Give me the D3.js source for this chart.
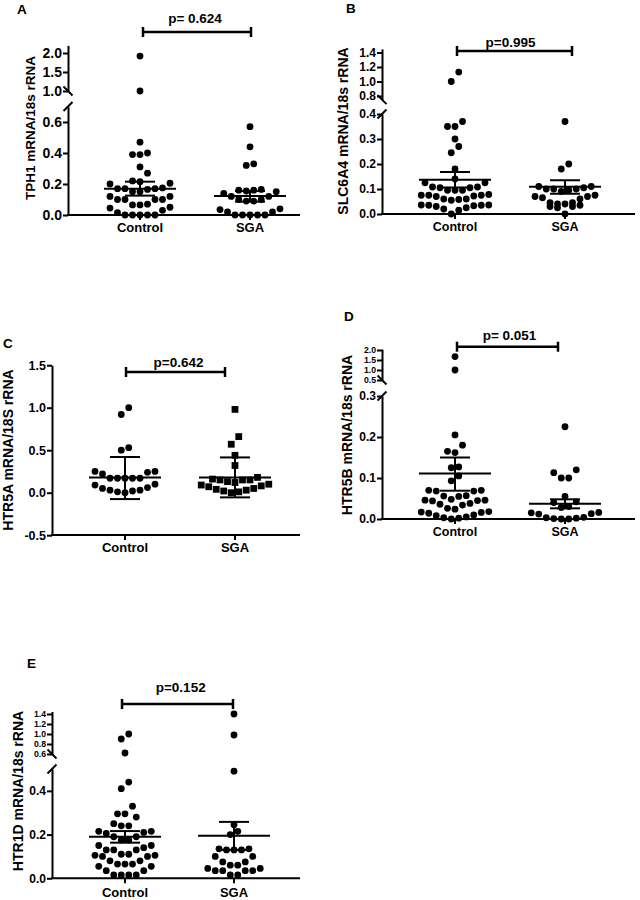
<!DOCTYPE html>
<html><head><meta charset="utf-8">
<script src="https://cdn.jsdelivr.net/npm/d3@7"></script>
<style>body{margin:0;background:#fff} text{font-family:"Liberation Sans",Arial,sans-serif;font-weight:bold;fill:#000}</style>
</head><body><svg id="chart" width="640" height="900"></svg>
<script>
// ---------------- DATA ----------------
const categories = ["Control", "SGA"];
const panelLetters = ["A", "B", "C", "D", "E"];
const yTitles = ["TPH1 mRNA/18s rRNA", "SLC6A4 mRNA/18s rRNA", "HTR5A mRNA/18S rRNA", "HTR5B mRNA/18s rRNA", "HTR1D mRNA/18s rRNA"];
const pLabels = ["p= 0.624", "p=0.995", "p=0.642", "p= 0.051", "p=0.152"];

const tph1Control = [0, 0, 0, 0, 0, 0.015, 0.03, 0.045, 0.05, 0.065, 0.065, 0.07, 0.10, 0.10, 0.10, 0.10, 0.12, 0.12, 0.15, 0.15, 0.165, 0.17, 0.17, 0.17, 0.175, 0.20, 0.205, 0.215, 0.22, 0.27, 0.31, 0.39, 0.39, 0.40, 0.47, 1.0, 1.92];
const tph1SGA = [0, 0, 0, 0, 0, 0.02, 0.02, 0.035, 0.04, 0.09, 0.09, 0.10, 0.10, 0.12, 0.12, 0.14, 0.15, 0.155, 0.16, 0.16, 0.165, 0.32, 0.33, 0.44, 0.57];
const slcControl = [0, 0.015, 0.02, 0.025, 0.03, 0.033, 0.035, 0.035, 0.036, 0.036, 0.055, 0.058, 0.06, 0.06, 0.07, 0.072, 0.075, 0.075, 0.075, 0.078, 0.095, 0.095, 0.095, 0.105, 0.105, 0.108, 0.108, 0.125, 0.125, 0.14, 0.18, 0.245, 0.27, 0.30, 0.35, 0.35, 0.37, 1.0, 1.13];
const slcSGA = [0, 0.025, 0.03, 0.03, 0.035, 0.04, 0.04, 0.045, 0.045, 0.06, 0.065, 0.07, 0.07, 0.075, 0.09, 0.095, 0.10, 0.10, 0.10, 0.105, 0.11, 0.11, 0.18, 0.20, 0.37];
const htr5aControl = [0, 0.01, 0.02, 0.03, 0.03, 0.05, 0.06, 0.09, 0.10, 0.17, 0.17, 0.17, 0.17, 0.17, 0.22, 0.24, 0.25, 0.25, 0.50, 0.53, 0.92, 1.0];
const htr5aSGA = [0, 0.01, 0.02, 0.03, 0.04, 0.05, 0.07, 0.08, 0.09, 0.10, 0.12, 0.13, 0.15, 0.15, 0.15, 0.16, 0.18, 0.32, 0.44, 0.57, 0.66, 0.98];
const htr5bControl = [0, 0.002, 0.003, 0.005, 0.008, 0.01, 0.014, 0.016, 0.017, 0.018, 0.024, 0.026, 0.034, 0.036, 0.038, 0.044, 0.045, 0.046, 0.046, 0.048, 0.055, 0.056, 0.057, 0.068, 0.068, 0.07, 0.07, 0.093, 0.105, 0.125, 0.127, 0.162, 0.165, 0.18, 0.205, 1.0, 1.67];
const htr5bSGA = [0, 0, 0.001, 0.002, 0.003, 0.004, 0.012, 0.013, 0.015, 0.016, 0.028, 0.03, 0.04, 0.042, 0.055, 0.10, 0.10, 0.113, 0.12, 0.225];
const htr1dControl = [0.015, 0.015, 0.015, 0.015, 0.035, 0.035, 0.055, 0.055, 0.065, 0.065, 0.065, 0.08, 0.08, 0.10, 0.10, 0.105, 0.105, 0.11, 0.11, 0.13, 0.13, 0.13, 0.14, 0.15, 0.15, 0.175, 0.175, 0.19, 0.19, 0.205, 0.21, 0.215, 0.215, 0.24, 0.24, 0.25, 0.28, 0.295, 0.295, 0.33, 0.41, 0.44, 0.62, 0.9, 1.0];
const htr1dSGA = [0.015, 0.015, 0.035, 0.035, 0.035, 0.035, 0.045, 0.045, 0.06, 0.06, 0.075, 0.075, 0.10, 0.10, 0.13, 0.13, 0.13, 0.135, 0.135, 0.20, 0.215, 0.245, 0.49, 0.98, 1.4];

// mean and error-bar limits [control, SGA]
const meansA = [0.17, 0.122], errA = [[0.125, 0.215], [0.086, 0.155]];
const meansB = [0.137, 0.109], errB = [[0.106, 0.168], [0.081, 0.135]];
const meansC = [0.18, 0.18], errC = [[-0.075, 0.42], [-0.055, 0.415]];
const meansD = [0.111, 0.037], errD = [[0.069, 0.15], [0.026, 0.048]];
const meansE = [0.19, 0.195], errE = [[0.163, 0.216], [0.13, 0.258]];

// tick labels (lower / upper axis segments)
const ticksA = [[0, 0.2, 0.4, 0.6], [1.0, 1.5, 2.0]];
const ticksB = [[0, 0.1, 0.2, 0.3, 0.4], [0.8, 1.0, 1.2, 1.4]];
const ticksC = [[-0.5, 0, 0.5, 1.0, 1.5], []];
const ticksD = [[0, 0.1, 0.2, 0.3], [0.5, 1.0, 1.5, 2.0]];
const ticksE = [[0, 0.2, 0.4], [0.6, 0.8, 1.0, 1.2, 1.4]];

// ---------------- LAYOUT ----------------
const layouts = [
  {letter:[17,14], ax:68, xAxisY:215, xEnd:300, cx:[140,250], lower:{d:[0,0.7], r:[215,106.5]}, upper:{d:[1.0,2.2], r:[91,45.4]}, title:[35,128], tickFs:[14,14], catFs:13, sig:{y:32, x:[143,251], tx:195, ty:22.5, bold:true}, marker:["circle","circle"]},
  {letter:[346,13], ax:382, xAxisY:214, xEnd:635, cx:[455,565], lower:{d:[0,0.4], r:[214,114]}, upper:{d:[0.75,1.45], r:[99.6,48.9]}, title:[348,131], tickFs:[12,12], catFs:12.5, sig:{y:51, x:[457,572], tx:510.5, ty:46.5, bold:false}, marker:["circle","circle"]},
  {letter:[3,348], ax:52, xAxisY:535, xEnd:300, cx:[125,235], lower:{d:[-0.5,1.5], r:[535.2,365.2]}, upper:null, title:[13,450], tickFs:[12.5,12.5], catFs:13, sig:{y:372, x:[126,225], tx:178.5, ty:367, bold:true}, marker:["circle","square"]},
  {letter:[344,321], ax:382, xAxisY:519, xEnd:635, cx:[455,565], lower:{d:[0,0.3], r:[519,396]}, upper:{d:[0.5,2.05], r:[380,349]}, title:[352,435], tickFs:[12,8.7], catFs:12.5, sig:{y:346.7, x:[457,558], tx:509.5, ty:340, bold:false}, marker:["circle","circle"]},
  {letter:[27,668], ax:52, xAxisY:878.3, xEnd:300, cx:[125,234], lower:{d:[0,0.5], r:[878.3,769]}, upper:{d:[0.6,1.45], r:[754,711.5]}, title:[23,791], tickFs:[12,8.7], catFs:13, sig:{y:704, x:[122,233], tx:180.7, ty:692, bold:true}, marker:["circle","circle"]}
];
const groupData = [[tph1Control, tph1SGA],[slcControl, slcSGA],[htr5aControl, htr5aSGA],[htr5bControl, htr5bSGA],[htr1dControl, htr1dSGA]];
const meanData = [meansA, meansB, meansC, meansD, meansE];
const errData = [errA, errB, errC, errD, errE];
const tickData = [ticksA, ticksB, ticksC, ticksD, ticksE];

const svg = d3.select("#chart");
const TL = 5, R = 3.4, STEP = 7.5, BIN = 9.5;

// Prism-like column scatter: bin points into rows by pixel height, spread each row centre-out
function swarm(vals, yf) {
  const pts = vals.map(v => ({v, y: yf(v), x: 0})).sort((a, b) => b.y - a.y);
  let i = 0;
  while (i < pts.length) {
    let j = i;
    while (j < pts.length && pts[i].y - pts[j].y < BIN) j++;
    const row = pts.slice(i, j), n = row.length;
    row.forEach((p, k) => {
      if (n % 2) { p.x = k === 0 ? 0 : (k % 2 ? -1 : 1) * Math.ceil(k / 2) * STEP; }
      else { p.x = (k % 2 ? 1 : -1) * (Math.floor(k / 2) + 0.5) * STEP; }
    });
    i = j;
  }
  return pts;
}

layouts.forEach((L, i) => {
  const g = svg.append("g");
  const lower = d3.scaleLinear().domain(L.lower.d).range(L.lower.r);
  const upper = L.upper ? d3.scaleLinear().domain(L.upper.d).range(L.upper.r) : null;
  const yf = v => (upper && v > L.lower.d[1]) ? upper(v) : lower(v);
  const x = d3.scalePoint().domain(categories).range(L.cx);

  g.append("text").attr("x", L.letter[0]).attr("y", L.letter[1]).attr("font-size", 13.5).text(panelLetters[i]);

  const drawSeg = (scale, ticks, fs) => {
    const ax = g.append("g").attr("transform", `translate(${L.ax},0)`)
      .call(d3.axisLeft(scale).tickValues(ticks).tickSize(TL).tickPadding(1).tickSizeOuter(0).tickFormat(d => d.toFixed(1)));
    ax.select(".domain").attr("stroke", "#000").attr("stroke-width", 2);
    ax.selectAll(".tick line").attr("stroke", "#000").attr("stroke-width", 2);
    ax.selectAll(".tick text").attr("font-size", fs).attr("font-weight", "bold").attr("font-family", '"Liberation Sans",Arial,sans-serif').attr("fill", "#000");
  };
  drawSeg(lower, tickData[i][0], L.tickFs[0]);
  if (upper) {
    drawSeg(upper, tickData[i][1], L.tickFs[1]);
    const s = 4.5;
    const yb = L.upper.r[0], yt = L.lower.r[1];
    g.append("line").attr("x1", L.ax - s).attr("y1", yb - s).attr("x2", L.ax + s).attr("y2", yb + s).attr("stroke", "#000").attr("stroke-width", 2);
    g.append("line").attr("x1", L.ax - s).attr("y1", yt + s).attr("x2", L.ax + s).attr("y2", yt - s).attr("stroke", "#000").attr("stroke-width", 2);
  }

  g.append("line").attr("x1", L.ax - 1).attr("x2", L.xEnd).attr("y1", L.xAxisY).attr("y2", L.xAxisY).attr("stroke", "#000").attr("stroke-width", 2);
  categories.forEach(c => {
    g.append("line").attr("x1", x(c)).attr("x2", x(c)).attr("y1", L.xAxisY).attr("y2", L.xAxisY + TL).attr("stroke", "#000").attr("stroke-width", 2);
    g.append("text").attr("x", x(c)).attr("y", L.xAxisY + (i === 4 ? 18.5 : 17)).attr("text-anchor", "middle").attr("font-size", L.catFs).text(c);
  });

  g.append("text").attr("transform", `translate(${L.title[0]},${L.title[1]}) rotate(-90)`).attr("text-anchor", "middle").attr("font-size", i === 0 ? 13.5 : 14).text(yTitles[i]);

  categories.forEach((c, k) => {
    const pts = swarm(groupData[i][k], yf);
    if (L.marker[k] === "square") {
      g.selectAll(null).data(pts).enter().append("rect")
        .attr("x", d => x(c) + d.x - 3.4).attr("y", d => d.y - 3.4).attr("width", 6.8).attr("height", 6.8).attr("fill", "#000");
    } else {
      g.selectAll(null).data(pts).enter().append("circle")
        .attr("cx", d => x(c) + d.x).attr("cy", d => d.y).attr("r", R).attr("fill", "#000");
    }
    const m = meanData[i][k], e = errData[i][k];
    g.append("line").attr("x1", x(c) - 36).attr("x2", x(c) + 36).attr("y1", yf(m)).attr("y2", yf(m)).attr("stroke", "#000").attr("stroke-width", 2);
    g.append("line").attr("x1", x(c)).attr("x2", x(c)).attr("y1", yf(e[0])).attr("y2", yf(e[1])).attr("stroke", "#000").attr("stroke-width", 2);
    e.forEach(v => g.append("line").attr("x1", x(c) - 15).attr("x2", x(c) + 15).attr("y1", yf(v)).attr("y2", yf(v)).attr("stroke", "#000").attr("stroke-width", 2));
  });

  const S = L.sig;
  g.append("line").attr("x1", S.x[0]).attr("x2", S.x[1]).attr("y1", S.y).attr("y2", S.y).attr("stroke", "#000").attr("stroke-width", 2.5);
  S.x.forEach(xx => g.append("line").attr("x1", xx).attr("x2", xx).attr("y1", S.y - 5).attr("y2", S.y + 5).attr("stroke", "#000").attr("stroke-width", 2.5));
  g.append("text").attr("x", S.tx).attr("y", S.ty).attr("text-anchor", "middle").attr("font-size", 13.5)
    .attr("font-weight", S.bold ? "bold" : "normal").text(pLabels[i]);
});
</script></body></html>
